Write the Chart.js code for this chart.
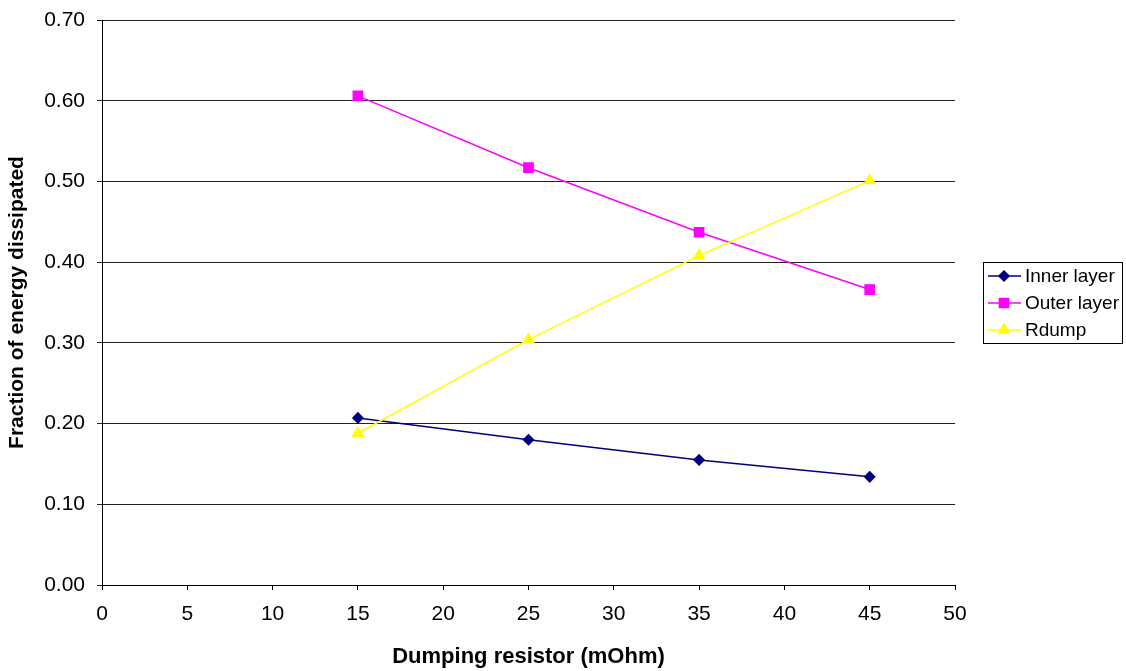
<!DOCTYPE html>
<html>
<head>
<meta charset="utf-8">
<script src="https://cdn.jsdelivr.net/npm/chart.js@4/dist/chart.umd.min.js"></script>
<style>
  html, body { margin: 0; padding: 0; background: #fff; }
  #wrap { width: 1126px; height: 671px; position: relative; }
</style>
</head>
<body>
<div id="wrap"><canvas id="energyChart"></canvas></div>
<script>
const resistors = [15, 25, 35, 45];
const innerLayer = [0.207, 0.180, 0.155, 0.134];
const outerLayer = [0.606, 0.517, 0.437, 0.366];
const rdump = [0.188, 0.304, 0.408, 0.501];
const seriesNames = ['Inner layer', 'Outer layer', 'Rdump'];

const FONT = 'Arial, "Liberation Sans", sans-serif';

const toPoints = (vals) => vals.map((v, i) => ({x: resistors[i], y: v}));

// legend in a box, line with marker like the spreadsheet one
const boxLegend = {
    id: 'boxLegend',
    afterDraw(chart) {
        const ctx = chart.ctx;
        const x0 = 983, y0 = 262, w = 139, h = 81;
        ctx.save();
        ctx.strokeStyle = '#000';
        ctx.lineWidth = 1;
        ctx.strokeRect(x0 + 0.5, y0 + 0.5, w, h);
        ctx.font = '19px ' + FONT;
        ctx.textBaseline = 'middle';
        chart.data.datasets.forEach((ds, i) => {
            const y = y0 + 14 + i * 27;
            ctx.strokeStyle = ds.borderColor;
            ctx.lineWidth = 1.5;
            ctx.beginPath();
            ctx.moveTo(x0 + 5, y);
            ctx.lineTo(x0 + 38, y);
            ctx.stroke();
            Chart.helpers.drawPoint(ctx, {
                pointStyle: ds.pointStyle,
                radius: ds.pointRadius,
                rotation: 0,
                borderWidth: 1
            }, x0 + 21, y);
            ctx.fillStyle = ds.pointBackgroundColor;
            ctx.fill();
            ctx.fillStyle = '#000';
            ctx.fillText(ds.label, x0 + 42, y + 1);
        });
        ctx.restore();
    }
};

const ctx = document.getElementById('energyChart').getContext('2d');

new Chart(ctx, {
    type: 'line',
    data: {
        datasets: [
            {
                label: seriesNames[0],
                data: toPoints(innerLayer),
                borderColor: '#000080',
                backgroundColor: '#000080',
                pointBackgroundColor: '#000080',
                pointBorderColor: '#000080',
                pointStyle: 'rectRot',
                pointRadius: 5,
                borderWidth: 1.5,
                order: 3
            },
            {
                label: seriesNames[1],
                data: toPoints(outerLayer),
                borderColor: '#FF00FF',
                backgroundColor: '#FF00FF',
                pointBackgroundColor: '#FF00FF',
                pointBorderColor: '#FF00FF',
                pointStyle: 'rect',
                pointRadius: 6.5,
                borderWidth: 1.5,
                order: 2
            },
            {
                label: seriesNames[2],
                data: toPoints(rdump),
                borderColor: '#FFFF00',
                backgroundColor: '#FFFF00',
                pointBackgroundColor: '#FFFF00',
                pointBorderColor: '#FFFF00',
                pointStyle: 'triangle',
                pointRadius: 6,
                borderWidth: 1.5,
                order: 1
            }
        ]
    },
    options: {
        responsive: true,
        maintainAspectRatio: false,
        animation: false,
        layout: {
            padding: {top: 20, right: 171, bottom: 0, left: 0}
        },
        scales: {
            x: {
                type: 'linear',
                min: 0,
                max: 50,
                ticks: {
                    stepSize: 5,
                    color: '#000',
                    font: {family: FONT, size: 21},
                    padding: 12
                },
                grid: {
                    drawOnChartArea: false,
                    drawTicks: true,
                    tickLength: 5,
                    color: '#000'
                },
                border: {color: '#000', width: 1},
                title: {
                    display: true,
                    text: 'Dumping resistor (mOhm)',
                    color: '#000',
                    font: {family: FONT, size: 22, weight: 'bold'},
                    padding: {top: 0, bottom: 1}
                },
                afterFit: (s) => { s.height = 86; s.paddingLeft = 0; s.paddingRight = 0; }
            },
            y: {
                min: 0,
                max: 0.7,
                ticks: {
                    stepSize: 0.1,
                    color: '#000',
                    font: {family: FONT, size: 21},
                    padding: 12,
                    callback: (v) => v.toFixed(2)
                },
                grid: {
                    color: '#222',
                    lineWidth: 1,
                    tickLength: 5
                },
                border: {color: '#000', width: 1},
                title: {
                    display: true,
                    text: 'Fraction of energy dissipated',
                    color: '#000',
                    font: {family: FONT, size: 21, weight: 'bold'},
                    padding: {top: 5, bottom: 0}
                },
                afterFit: (s) => { s.width = 102; s.paddingTop = 0; s.paddingBottom = 0; }
            }
        },
        plugins: {
            legend: {display: false},
            tooltip: {enabled: false}
        }
    },
    plugins: [boxLegend]
});
</script>
</body>
</html>
